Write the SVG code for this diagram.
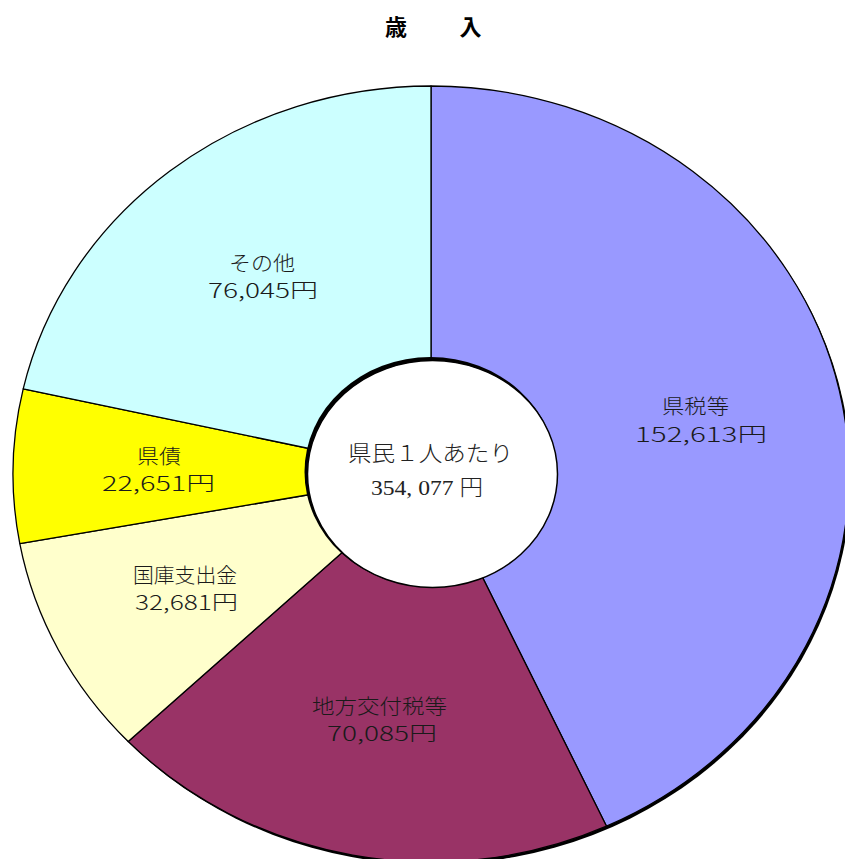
<svg xmlns="http://www.w3.org/2000/svg" width="845" height="859" viewBox="0 0 845 859">
<style>
.sl{stroke:#000;stroke-width:1.3;stroke-linejoin:round}
.lb{font-family:"Noto Sans CJK JP","Liberation Sans",sans-serif;font-size:20px;font-weight:300;fill:#1a1a1a;text-anchor:middle}
.ct{font-family:"Liberation Serif","Noto Sans CJK JP",serif;font-size:22px;font-weight:300;fill:#222;text-anchor:middle}
.tt{font-family:"Noto Sans CJK JP","Liberation Sans",sans-serif;font-size:22px;font-weight:bold;fill:#000;text-anchor:middle}
</style>
<rect width="845" height="859" fill="#fff"/>
<g id="title"><text class="tt" x="396" y="35">歳</text><text class="tt" x="470.5" y="35">入</text></g>
<ellipse id="shadow" cx="433" cy="476.5" rx="418" ry="388" fill="#000"/>
<g id="kenzei">
<path class="sl" fill="#9999FF" d="M431,474 L431,86 A418,388 0 0,1 606.5,826.2 Z"/>
<text class="lb" x="695.5" y="414" textLength="67" lengthAdjust="spacingAndGlyphs">県税等</text>
<text class="lb" x="701" y="442" textLength="132" lengthAdjust="spacingAndGlyphs">152,613円</text>
</g>
<g id="chihou">
<path class="sl" fill="#993366" d="M431,474 L606.5,826.2 A418,388 0 0,1 128.2,741.5 Z"/>
<text class="lb" x="379.5" y="714" textLength="135" lengthAdjust="spacingAndGlyphs">地方交付税等</text>
<text class="lb" x="382" y="741" textLength="110" lengthAdjust="spacingAndGlyphs">70,085円</text>
</g>
<g id="kokko">
<path class="sl" fill="#FFFFCC" d="M431,474 L128.2,741.5 A418,388 0 0,1 19.8,543.7 Z"/>
<text class="lb" x="185" y="583" textLength="104" lengthAdjust="spacingAndGlyphs">国庫支出金</text>
<text class="lb" x="186.5" y="610" textLength="103" lengthAdjust="spacingAndGlyphs">32,681円</text>
</g>
<g id="kensai">
<path class="sl" fill="#FFFF00" d="M431,474 L19.8,543.7 A418,388 0 0,1 23.2,388.8 Z"/>
<text class="lb" x="159" y="464" textLength="44" lengthAdjust="spacingAndGlyphs">県債</text>
<text class="lb" x="158.5" y="491" font-size="22" textLength="113" lengthAdjust="spacingAndGlyphs">22,651円</text>
</g>
<g id="sonota">
<path class="sl" fill="#CCFFFF" d="M431,474 L23.2,388.8 A418,388 0 0,1 431,86 Z"/>
<text class="lb" x="262" y="271" textLength="66" lengthAdjust="spacingAndGlyphs">その他</text>
<text class="lb" x="263" y="298" textLength="110" lengthAdjust="spacingAndGlyphs">76,045円</text>
</g>
<g id="center">
<ellipse cx="430.5" cy="472" rx="126" ry="115" fill="#000"/>
<ellipse cx="432.5" cy="474" rx="125" ry="113.5" fill="#fff" stroke="#000" stroke-width="1.5"/>
<text class="ct" x="430.5" y="461" textLength="165" lengthAdjust="spacingAndGlyphs">県民１人あたり</text>
<text class="ct" x="427" y="495" font-size="24" textLength="112" lengthAdjust="spacingAndGlyphs">354, 077 円</text>
</g>
</svg>
